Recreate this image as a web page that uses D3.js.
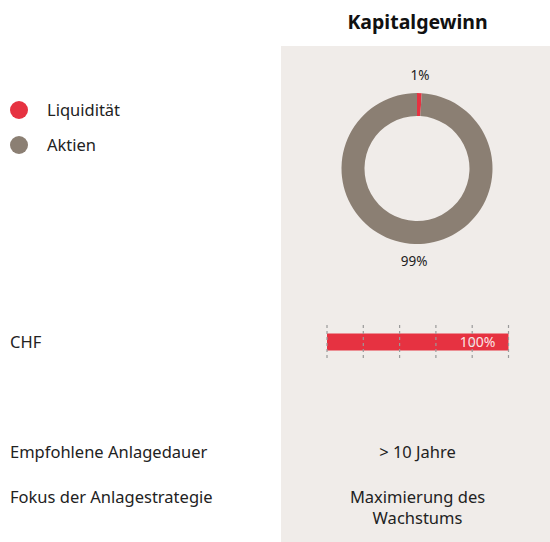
<!DOCTYPE html>
<html>
<head>
<meta charset="utf-8">
<script src="https://cdn.jsdelivr.net/npm/d3@7"></script>
<style>
  body { margin: 0; background: #fff; }
  svg { display: block; font-family: "Noto Sans", "Lato", sans-serif; }
</style>
</head>
<body>
<div id="chart"></div>
<script>
// data
var title = "Kapitalgewinn";
var assetClasses = ["Liquidität", "Aktien"];
var assetShares = [1, 99];
var assetColors = ["#e63241", "#8b7f73"];
var currencies = ["CHF"];
var currencyShares = [100];
var gridTicks = [0, 20, 40, 60, 80, 100];
var rowLabels = ["Empfohlene Anlagedauer", "Fokus der Anlagestrategie"];
var rowValues = [["> 10 Jahre"], ["Maximierung des", "Wachstums"]];

var width = 550, height = 542;
var panelX = 281, panelTop = 46;
var centerX = (panelX + width) / 2 + 2;
var bodySize = 16.5;

var svg = d3.select("#chart").append("svg")
    .attr("width", width)
    .attr("height", height);

// column background
svg.append("rect")
    .attr("x", panelX).attr("y", panelTop)
    .attr("width", width - panelX).attr("height", height - panelTop)
    .attr("fill", "#f0ecE9");

svg.append("text")
    .attr("x", centerX).attr("y", 29)
    .attr("text-anchor", "middle")
    .attr("font-size", 19.5).attr("font-weight", 700)
    .attr("fill", "#111")
    .text(title);

// legend
var legend = svg.append("g").selectAll("g")
    .data(assetClasses)
    .join("g")
    .attr("transform", function (d, i) { return "translate(19," + (110 + i * 35) + ")"; });
legend.append("circle").attr("r", 9).attr("fill", function (d, i) { return assetColors[i]; });
legend.append("text")
    .attr("x", 28).attr("dy", "0.35em")
    .attr("font-size", bodySize).attr("fill", "#222")
    .text(function (d) { return d; });

// donut
var outerR = 75.5, innerR = 52.5, cy = 168.5;
var pie = d3.pie().sort(null).value(function (d) { return d; });
var arc = d3.arc().innerRadius(innerR).outerRadius(outerR);
var arcs = pie(assetShares);
var donut = svg.append("g").attr("transform", "translate(" + (centerX - 0.5) + "," + cy + ")");
donut.selectAll("path")
    .data(arcs)
    .join("path")
    .attr("d", arc)
    .attr("fill", function (d, i) { return assetColors[i]; });
donut.selectAll("text")
    .data(arcs)
    .join("text")
    .attr("text-anchor", "middle")
    .attr("font-size", 13.5).attr("fill", "#222")
    .attr("x", function (d) { var a = (d.startAngle + d.endAngle) / 2; return Math.sin(a) * (outerR + 17.5); })
    .attr("y", function (d) { var a = (d.startAngle + d.endAngle) / 2; return -Math.cos(a) * (outerR + 17.5); })
    .attr("dy", "0.35em")
    .text(function (d) { return d.data + "%"; });

// currency bar
var x = d3.scaleLinear().domain([0, 100]).range([327, 508.5]);
var barY = 342;
svg.append("text")
    .attr("x", 10).attr("y", barY).attr("dy", "0.35em")
    .attr("font-size", bodySize).attr("fill", "#222")
    .text(currencies[0]);

var stack = 0;
svg.append("g").selectAll("rect")
    .data(currencyShares)
    .join("rect")
    .attr("x", function (d) { var v = x(stack); stack += d; return v; })
    .attr("y", barY - 8.5).attr("height", 17)
    .attr("width", function (d) { return x(d) - x(0); })
    .attr("fill", assetColors[0]);

svg.append("g").selectAll("line")
    .data(gridTicks)
    .join("line")
    .attr("x1", function (d) { return x(d); }).attr("x2", function (d) { return x(d); })
    .attr("y1", 325).attr("y2", 360)
    .attr("stroke", "#9a9a9a").attr("stroke-width", 1.2)
    .attr("stroke-dasharray", "3,3");

svg.append("text")
    .attr("x", x(currencyShares[0]) - 13).attr("y", barY).attr("dy", "0.35em")
    .attr("text-anchor", "end")
    .attr("font-size", 14).attr("fill", "#fbe3e5")
    .text(currencyShares[0] + "%");

// info rows
var rowY = [452, 497];
rowLabels.forEach(function (label, i) {
    svg.append("text")
        .attr("x", 10).attr("y", rowY[i]).attr("dy", "0.35em")
        .attr("font-size", bodySize).attr("fill", "#222")
        .text(label);
    rowValues[i].forEach(function (line, j) {
        svg.append("text")
            .attr("x", centerX).attr("y", rowY[i] + j * 21).attr("dy", "0.35em")
            .attr("text-anchor", "middle")
            .attr("font-size", bodySize).attr("fill", "#222")
            .text(line);
    });
});
</script>
</body>
</html>
